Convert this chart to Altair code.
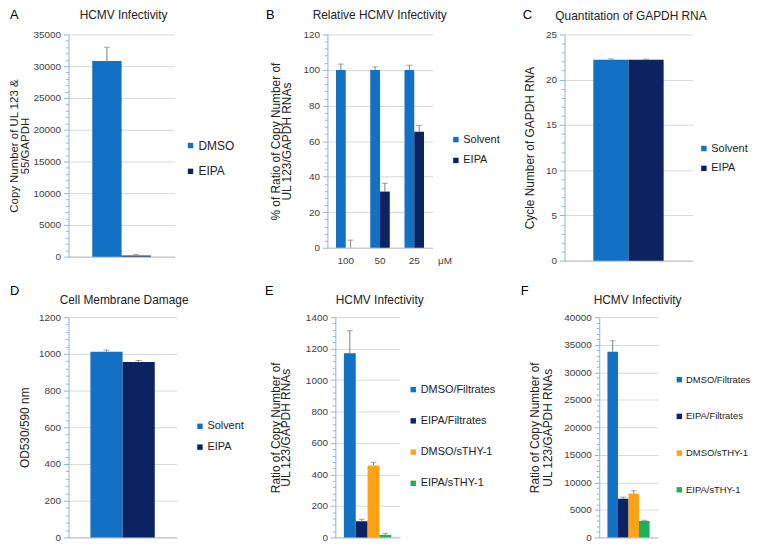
import altair as alt
import pandas as pd

FONT = "Liberation Sans, Arial, sans-serif"
BLUE = "#1371C3"
NAVY = "#0B2461"
ORANGE = "#FFA216"
GREEN = "#1CB05B"
GREY_ERR = "#808080"

# ---- Panel A ----
a_series = ["DMSO", "EIPA"]
a_values = [30800, 180]
a_errors = [2200, 150]
# ---- Panel B ----
b_doses = ["100", "50", "25"]
b_series = ["Solvent", "EIPA"]
b_solvent = [100, 100, 100]
b_solvent_err = [3.3, 1.8, 2.7]
b_eipa = [0, 31.6, 65.2]
b_eipa_err = [4.3, 4.7, 3.6]
# ---- Panel C ----
c_series = ["Solvent", "EIPA"]
c_values = [22.2, 22.2]
c_errors = [0.1, 0.08]
# ---- Panel D ----
d_series = ["Solvent", "EIPA"]
d_values = [1012, 956]
d_errors = [9, 8]
# ---- Panel E ----
e_series = ["DMSO/Filtrates", "EIPA/Filtrates", "DMSO/sTHY-1", "EIPA/sTHY-1"]
e_values = [1170, 103, 457, 16]
e_errors = [144, 12, 20, 10]
# ---- Panel F ----
f_series = ["DMSO/Filtrates", "EIPA/Filtrates", "DMSO/sTHY-1", "EIPA/sTHY-1"]
f_values = [33700, 7030, 7960, 2990]
f_errors = [2000, 300, 520, 120]


def frame(series, values, errors, dose=None):
    df = pd.DataFrame({"series": series, "value": values, "err": errors})
    df["upper"] = df["value"] + df["err"]
    if dose is not None:
        df["dose"] = dose
    return df


def panel(df, series, colors, ymax, major, minor, width, height, ytitle,
          title, title_pos, letter, letter_pos, legend_pos, legend_fs,
          row_pad, pad_outer, title_pad, ytitle_fs=12, ytitle_lh=10.5,
          dose_mode=False):
    ticks = list(range(0, ymax + minor, minor))
    cond = f"datum.value % {major} == 0"
    yaxis = alt.Axis(
        values=ticks, format="d",
        labelExpr=f"{cond} ? datum.label : ''",
        title=ytitle,
        titleFont=FONT, titleFontSize=ytitle_fs, titleFontWeight="normal",
        titleColor="#222222", titlePadding=title_pad, titleLineHeight=ytitle_lh,
        labelFont=FONT, labelFontSize=10, labelColor="#404040",
        labelPadding=3, labelOverlap=False,
        domainColor="#8DB4E2", tickColor="#8DB4E2",
        tickSize={"condition": {"test": cond, "value": 5}, "value": 3},
        gridColor={"condition": {"test": cond, "value": "#D9D9D9"}, "value": "transparent"},
        grid=True,
    )
    yscale = alt.Scale(domain=[0, ymax], nice=False)
    if dose_mode:
        xaxis = alt.Axis(title="\u03bcM", titleFont=FONT, titleFontSize=10,
                         titleFontWeight="normal", titleColor="#404040",
                         titleAngle=0, titleAlign="left", titleBaseline="middle",
                         titleX=width + 5, titleY=13,
                         labelAngle=0, labelFont=FONT, labelFontSize=10,
                         labelColor="#404040", labelPadding=8, ticks=False,
                         domainColor="#BFBFBF", grid=False)
        x = alt.X("dose:N", sort=b_doses, axis=xaxis,
                  scale=alt.Scale(paddingInner=0.43, paddingOuter=0.25))
        xo = alt.XOffset("series:N", sort=series,
                         scale=alt.Scale(paddingInner=0, paddingOuter=0))
        extra = {"xOffset": xo}
    else:
        xaxis = alt.Axis(title=None, labels=False, ticks=False,
                         domainColor="#BFBFBF", grid=False)
        x = alt.X("series:N", sort=series, axis=xaxis,
                  scale=alt.Scale(paddingInner=0, paddingOuter=pad_outer))
        extra = {}

    color = alt.Color(
        "series:N", sort=series,
        scale=alt.Scale(domain=series, range=colors),
        legend=alt.Legend(
            title=None, orient="none", legendX=legend_pos[0],
            legendY=legend_pos[1] - legend_fs / 2,
            symbolType="square", symbolSize=30, symbolStrokeWidth=0,
            labelFont=FONT, labelFontSize=legend_fs, labelColor="#222222",
            labelOffset=2, rowPadding=row_pad, labelLimit=300,
        ),
    )
    base = alt.Chart(df)
    bars = base.mark_bar().encode(
        x=x, y=alt.Y("value:Q", scale=yscale, axis=yaxis), color=color, **extra)
    rule = base.mark_rule(color=GREY_ERR, strokeWidth=1).encode(
        x=x, y=alt.Y("value:Q", scale=yscale, axis=yaxis), y2="upper:Q", **extra)
    cap = base.mark_tick(color=GREY_ERR, thickness=1, size=6,
                         orient="horizontal").encode(
        x=x, y=alt.Y("upper:Q", scale=yscale, axis=yaxis), **extra)
    ttl = alt.Chart(pd.DataFrame({"t": [title]})).mark_text(
        font=FONT, fontSize=12, color="#222222", align="center",
        baseline="alphabetic").encode(
        text="t:N", x=alt.value(title_pos[0]), y=alt.value(title_pos[1]))
    let = alt.Chart(pd.DataFrame({"t": [letter]})).mark_text(
        font=FONT, fontSize=13, color="#000000", align="left",
        baseline="alphabetic").encode(
        text="t:N", x=alt.value(letter_pos[0]), y=alt.value(letter_pos[1]))
    return alt.layer(bars, rule, cap, ttl, let).properties(width=width, height=height)


df_a = frame(a_series, a_values, a_errors)
df_b = pd.concat([
    frame(["Solvent"] * 3, b_solvent, b_solvent_err, dose=b_doses),
    frame(["EIPA"] * 3, b_eipa, b_eipa_err, dose=b_doses),
], ignore_index=True)
df_c = frame(c_series, c_values, c_errors)
df_d = frame(d_series, d_values, d_errors)
df_e = frame(e_series, e_values, e_errors)
df_f = frame(f_series, f_values, f_errors)

pA = panel(df_a, a_series, [BLUE, NAVY], 35000, 5000, 1000, 107, 224,
           ["Copy Number of UL 123 &", "55/GAPDH"], "HCMV Infectivity",
           (55.5, -16), "A", (-59, -16), (117, 112), 12, 14, 0.81, 3,
           ytitle_fs=11.5)
pB = panel(df_b, b_series, [BLUE, NAVY], 120, 20, 4, 106, 215,
           ["% of Ratio of  Copy Number of", "UL 123/GAPDH RNAs"],
           "Relative HCMV Infectivity", (52.7, -16), "B", (-62, -16),
           (124, 106), 11, 9, 0.25, 10, dose_mode=True)
pC = panel(df_c, c_series, [BLUE, NAVY], 25, 5, 1, 129, 228,
           "Cycle Number of GAPDH RNA", "Quantitation  of GAPDH RNA",
           (67, -15), "C", (-42, -16), (135, 115), 11, 8, 0.82, 9.5)
pD = panel(df_d, d_series, [BLUE, NAVY], 1200, 200, 40, 109, 222,
           "OD530/590 nm", "Cell Membrane  Damage",
           (56, -13), "D", (-59, -22), (127, 110), 11, 9, 0.68, 7.5)
pE = panel(df_e, e_series, [BLUE, NAVY, ORANGE, GREEN], 1400, 200, 40, 65, 222,
           ["Ratio of Copy Number of", "UL 123/GAPDH RNAs"], "HCMV Infectivity",
           (44.7, -13), "E", (-71, -22), (73, 73), 11, 19.5, 0.72, 12.5)
pF = panel(df_f, f_series, [BLUE, NAVY, ORANGE, GREEN], 40000, 5000, 1000, 59, 222,
           ["Ratio of Copy Number of", "UL 123/GAPDH RNAs"], "HCMV Infectivity",
           (38.7, -13), "F", (-79, -22), (76, 63), 9.5, 26, 0.78, 9.5,
           ytitle_lh=13)

row1 = alt.hconcat(
    pA,
    alt.hconcat(pB, pC, spacing=133, bounds="flush").resolve_scale(color="independent"),
    spacing=154, bounds="flush").resolve_scale(color="independent")
row2 = alt.hconcat(
    pD,
    alt.hconcat(pE, pF, spacing=201, bounds="flush").resolve_scale(color="independent"),
    spacing=160, bounds="flush").resolve_scale(color="independent")

# nested flush groups report zero height, so the spacing spans the first row
chart = alt.vconcat(row1, row2, spacing=285, bounds="flush").resolve_scale(
    color="independent"
).properties(
    padding={"top": -2.5, "bottom": 0, "left": 0, "right": 0},
    background="white",
).configure_view(stroke="transparent")

chart.save("out.html", embed_options={"renderer": "svg", "actions": False})
